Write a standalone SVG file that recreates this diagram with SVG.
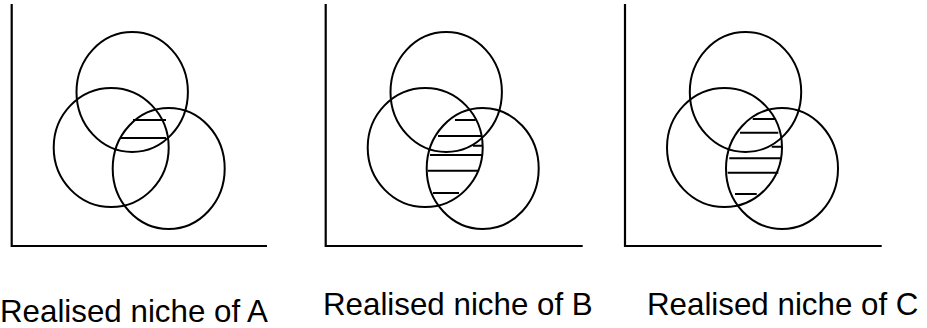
<svg xmlns="http://www.w3.org/2000/svg" width="927" height="328" viewBox="0 0 927 328">
<style>
.ax{stroke:#000;stroke-width:2.2;fill:none}
.c{stroke:#000;stroke-width:2;fill:none}
.h{stroke:#000;stroke-width:1.9}
.lbl{font-family:"Liberation Sans",Arial,sans-serif;font-size:31.3px;fill:#000}
</style>
<rect width="927" height="328" fill="#fff"/>
<defs>
<g id="niche">
<ellipse class="c" cx="120.5" cy="92" rx="55.7" ry="60"/>
<ellipse class="c" cx="99.5" cy="147.5" rx="57.5" ry="59.5"/>
<ellipse class="c" cx="157" cy="168.5" rx="56" ry="60.5"/>
</g>
</defs>
<g id="panelA">
<path class="ax" d="M11.7,4 V246 H267"/>
<use href="#niche" transform="translate(11.7,0)"/>
<path class="h" d="M133,120 H166 M120,138 H166"/>
<text class="lbl" x="0" y="321.5">Realised niche of A</text>
</g>
<g id="panelB">
<path class="ax" d="M325.7,4 V246 H582.7"/>
<use href="#niche" transform="translate(325.7,0)"/>
<path class="h" d="M455,120 H475.7 M438,136 H481.7 M473,145.7 H482 M430,155 H482 M428,170.7 H479 M433,193 H459"/>
<text class="lbl" x="323" y="315">Realised niche of B</text>
</g>
<g id="panelC">
<path class="ax" d="M625,4 V246 H881.7"/>
<use href="#niche" transform="translate(625,0)"/>
<path class="h" d="M752.7,119 H775 M740,132.7 H778.3 M771.7,146.7 H781.7 M729.3,158.3 H781.7 M727.7,172.7 H778.3 M735,194 H756.7"/>
<text class="lbl" x="647" y="315">Realised niche of C</text>
</g>
<g id="connectors"/>
</svg>
